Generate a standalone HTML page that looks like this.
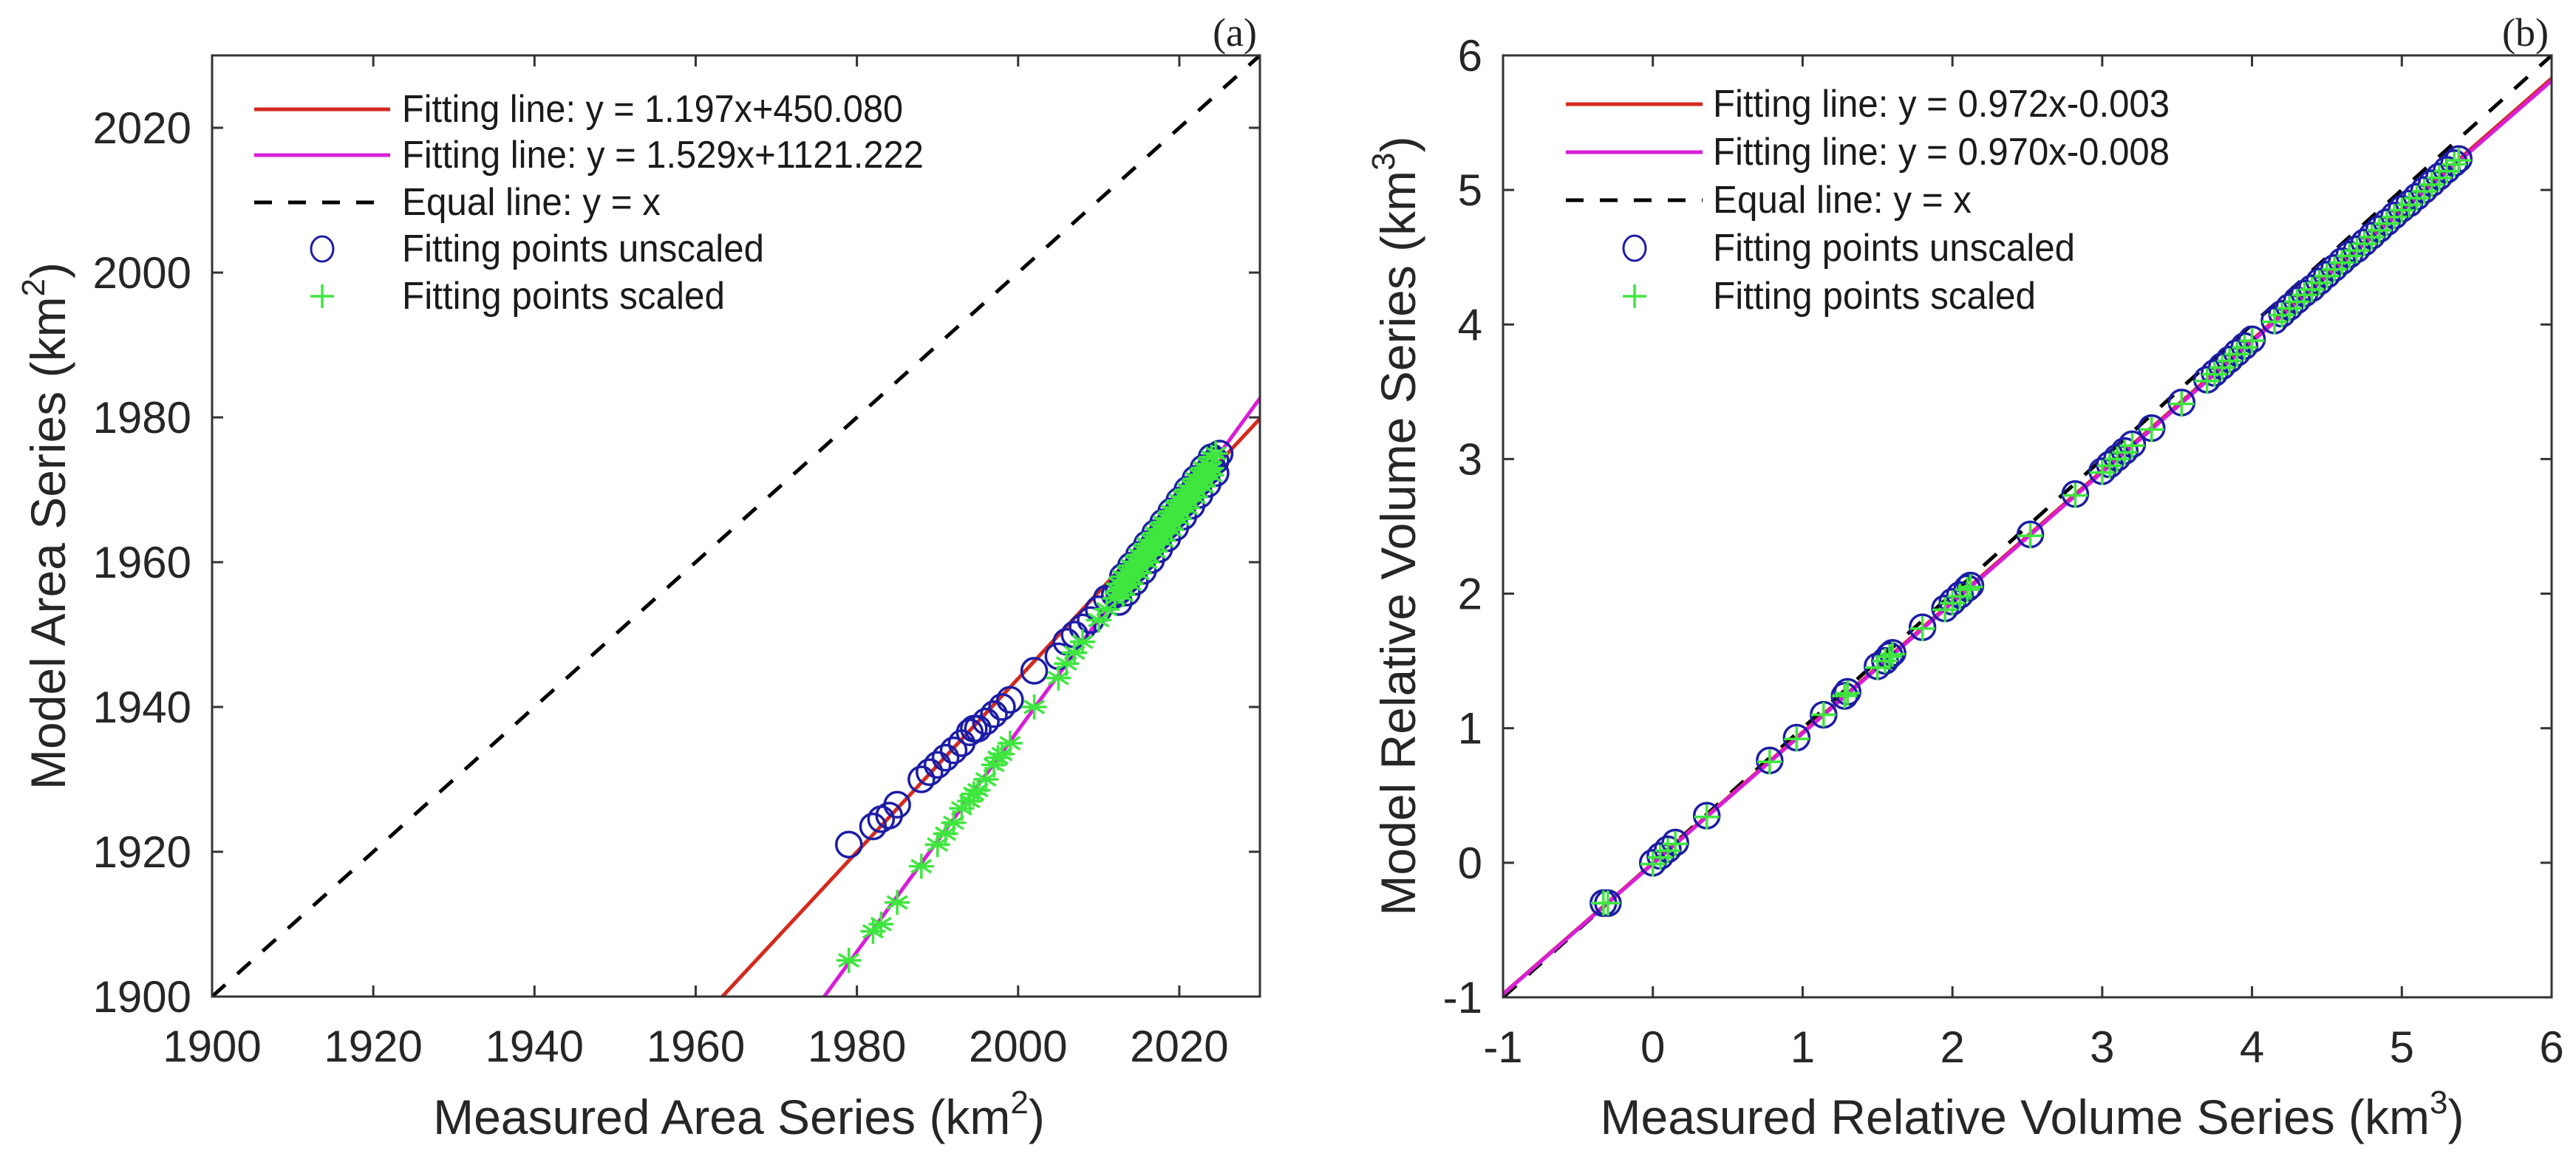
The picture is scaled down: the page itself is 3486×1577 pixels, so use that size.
<!DOCTYPE html>
<html><head><meta charset="utf-8"><style>
html,body{margin:0;padding:0;background:#fff;width:3486px;height:1577px;overflow:hidden;}
svg{display:block;font-family:"Liberation Sans",Arial,sans-serif;}
</style></head><body>
<svg id="fig" width="3486" height="1577" viewBox="0 0 3486 1577" xmlns="http://www.w3.org/2000/svg">
<rect width="3486" height="1577" fill="#fff"/>
<g id="pa"></g>
<g id="pb"></g>
</svg>
<script>
// ---------- Panel (a) data ----------
const aXTicks = [1900,1920,1940,1960,1980,2000,2020];
const aYTicks = [1900,1920,1940,1960,1980,2000,2020];
const aFitSlopes = [1.197, 1.529];
const aFitIntercepts = [-450.080, -1121.222];
const aUnscaledX = [1979,1982,1983,1984,1985,1988,1989,1990,1991,1992,1993,1994,1994.5,1995,1996,1997,1998,1999,2002,2005,2006,2007,2008,2009,2010,2011,
 2012,2012.5,2013,2013.5,2014,2014.5,2015,2015.5,2016,2016.5,2017,2017.5,2018,2018.5,2019,2019.5,2020,2020.5,2021,2021.5,2022,2022.5,2023,2023.5,2024,2024.5,2025,
 2012.5,2013.5,2014.5,2015.5,2016.5,2017.5,2018.5,2019.5,2020.5,2021.5,2022.5,2023.5,2024.5,
 2013,2014,2015,2016,2017,2018,2019,2020,2021,2022,2023,2024];
const aUnscaledY = [1921,1923.5,1924.5,1925,1926.5,1930,1931,1932,1933,1934,1935,1936.5,1937,1937,1938,1939,1940,1941,1945,1947,1949,1950,1951,1952,1953.5,1955,
 1955.5,1956,1957,1957.5,1958.5,1959,1960,1960.5,1961.5,1962,1963,1963.5,1964.5,1965,1966,1966.5,1967.5,1968,1969,1969.5,1970.5,1971,1972,1972.5,1973.5,1974,1975,
 1954.5,1955.8,1957.3,1958.8,1960.3,1961.8,1963.3,1964.8,1966.3,1967.8,1969.3,1970.8,1972.3,
 1958,1959.5,1961,1962.5,1964,1965.5,1967,1968.5,1970,1971.5,1973,1974.5];
const aScaledX = [1979,1982,1983,1985,1988,1990,1991,1992,1993,1994,1994.5,1995,1996,1997,1997.5,1998,1999,2002,2005,2006,2007,2008,2010,2011,
 2012,2012.5,2013,2013.5,2014,2014.5,2015,2015.5,2016,2016.5,2017,2017.5,2018,2018.5,2019,2019.5,2020,2020.5,2021,2021.5,2022,2022.5,2023,2023.5,2024,
 2012.5,2013,2013.5,2014,2014.5,2015,2015.5,2016,2016.5,2017,2017.5,2018,2018.5,2019,2019.5,2020,2020.5,2021,2021.5,2022,2022.5,2023,2023.5,2024,2024.5,
 2013,2014,2015,2016,2017,2018,2019,2020,2021,2022,2023,2024];
const aScaledY = [1905,1909,1910,1913,1918,1921,1922.5,1924,1926,1927,1928,1928.5,1930,1932,1933,1933.5,1935,1940,1944,1946,1947.5,1949,1952,1953.5,
 1955,1956,1956.5,1957.5,1958,1959,1959.5,1960.5,1961,1962,1962.5,1963.5,1964,1965,1965.5,1966.5,1967,1968,1968.5,1969.5,1970,1971,1971.5,1972.5,1973,
 1957,1958,1958.5,1959.5,1960,1961,1961.5,1962.5,1963,1964,1964.5,1965.5,1966,1967,1967.5,1968.5,1969,1970,1970.5,1971.5,1972,1973,1973.5,1974.5,1975,
 1955.5,1957,1958.5,1960,1961.5,1963,1964.5,1966,1967.5,1969,1970.5,1972];

// ---------- Panel (b) data ----------
const bXTicks = [-1,0,1,2,3,4,5,6];
const bYTicks = [-1,0,1,2,3,4,5,6];
const bFitSlopes = [0.972, 0.970];
const bFitIntercepts = [-0.003, -0.008];
const bUnscaledX = [-0.33,-0.3,0,0.05,0.1,0.15,0.36,0.78,0.96,1.14,1.28,1.3,1.5,1.55,1.58,1.6,1.8,1.95,2.0,2.05,2.1,2.12,2.52,2.82,3.0,3.05,3.1,3.15,3.2,3.33,3.53,3.7,3.75,3.8,3.85,3.9,3.95,4.0,
 4.15,4.2,4.25,4.3,4.35,4.4,4.45,4.5,4.55,4.6,4.65,4.7,4.75,4.8,4.85,4.9,4.95,5.0,5.05,5.1,5.15,5.2,5.25,5.3,5.35,5.38];
const bUnscaledY = [-0.3,-0.3,0,0.05,0.1,0.15,0.35,0.76,0.93,1.1,1.24,1.27,1.46,1.5,1.54,1.56,1.75,1.89,1.94,1.99,2.04,2.06,2.44,2.74,2.91,2.96,3.01,3.06,3.11,3.23,3.42,3.59,3.64,3.69,3.74,3.79,3.84,3.89,
 4.03,4.08,4.13,4.18,4.23,4.27,4.32,4.37,4.42,4.47,4.52,4.56,4.61,4.66,4.71,4.76,4.81,4.86,4.9,4.95,5.0,5.05,5.1,5.15,5.2,5.23];
const bScaledX = bUnscaledX.slice();
const bScaledY = [-0.3,-0.3,-0.01,0.04,0.09,0.14,0.34,0.75,0.92,1.1,1.24,1.26,1.45,1.5,1.53,1.55,1.74,1.88,1.93,1.98,2.03,2.05,2.43,2.73,2.9,2.95,3.0,3.05,3.1,3.22,3.41,3.58,3.63,3.68,3.73,3.78,3.83,3.88,
 4.02,4.07,4.12,4.17,4.22,4.26,4.31,4.36,4.41,4.46,4.51,4.55,4.6,4.65,4.7,4.75,4.8,4.85,4.89,4.94,4.99,5.04,5.09,5.14,5.19,5.22];

const NS = "http://www.w3.org/2000/svg";
function mk(tag, attrs, parent){
  const e = document.createElementNS(NS, tag);
  for (const k in attrs) e.setAttribute(k, attrs[k]);
  parent.appendChild(e);
  return e;
}
function lin(d0,d1,r0,r1){ return v => r0 + (v-d0)/(d1-d0)*(r1-r0); }

function panel(g, cfg){
  const sx = lin(cfg.xmin,cfg.xmax,cfg.L,cfg.R);
  const sy = lin(cfg.ymin,cfg.ymax,cfg.B,cfg.T);
  const clipId = cfg.id+"clip";
  const defs = mk("defs",{},g);
  const cp = mk("clipPath",{id:clipId},defs);
  mk("rect",{x:cfg.L,y:cfg.T,width:cfg.R-cfg.L,height:cfg.B-cfg.T},cp);
  const plot = mk("g",{"clip-path":"url(#"+clipId+")"},g);
  
  

  const eq = mk("line",{x1:sx(cfg.xmin),y1:sy(cfg.xmin),x2:sx(cfg.xmax),y2:sy(cfg.xmax),stroke:"#000","stroke-width":5,"stroke-dasharray":"24 22"},plot);
  
  
  const fitCols = ["#d42a1e","#d81ed8"];
  const fitNames = ["fit-line-unscaled","fit-line-scaled"];
  for (let i=0;i<cfg.slopes.length;i++){
    const f = x => cfg.slopes[i]*x + cfg.ints[i];
    const l = mk("line",{x1:sx(cfg.xmin),y1:sy(f(cfg.xmin)),x2:sx(cfg.xmax),y2:sy(f(cfg.xmax)),stroke:fitCols[i],"stroke-width":5},plot);
    
    
  }
  for (let i=0;i<cfg.ux.length;i++){
    const c = mk("circle",{cx:sx(cfg.ux[i]),cy:sy(cfg.uy[i]),r:17,fill:"none",stroke:"#1c1ca6","stroke-width":3.5},plot);
    
    
  }
  for (let i=0;i<cfg.sx.length;i++){
    const x = sx(cfg.sx[i]), y = sy(cfg.sy[i]), s = 17;
    let d = `M${x-s},${y}H${x+s}M${x},${y-s}V${y+s}`;
    if (cfg.star) d += `M${x-s*0.8},${y-s*0.5}L${x+s*0.8},${y+s*0.5}M${x-s*0.8},${y+s*0.5}L${x+s*0.8},${y-s*0.5}`;
    const p = mk("path",{d:d,stroke:"#3ee63e","stroke-width":3.5,fill:"none"},plot);
    
    
  }
  const box = mk("rect",{x:cfg.L,y:cfg.T,width:cfg.R-cfg.L,height:cfg.B-cfg.T,fill:"none",stroke:"#333","stroke-width":3},g);
  
  
  for (const t of cfg.xt){
    const x = sx(t);
    const tk = mk("path",{d:`M${x},${cfg.B}v-15M${x},${cfg.T}v15`,stroke:"#333","stroke-width":3},g);
    
    
    const tl = mk("text",{x:x,y:cfg.B+88,"font-size":60,"text-anchor":"middle",fill:"#262626"},g);
    tl.textContent = t;
    
    
  }
  for (const t of cfg.yt){
    const y = sy(t);
    const tk = mk("path",{d:`M${cfg.L},${y}h15M${cfg.R},${y}h-15`,stroke:"#333","stroke-width":3},g);
    
    
    const tl = mk("text",{x:cfg.L-28,y:y+21,"font-size":60,"text-anchor":"end",fill:"#262626"},g);
    tl.textContent = t;
    
    
  }
  const xt = mk("text",{x:cfg.xtX,y:1535,"font-size":66,"text-anchor":"middle",fill:"#262626"},g);
  xt.innerHTML = cfg.xTitle + ' (km<tspan dy="-28" font-size="44">'+cfg.pow+'</tspan><tspan dy="28">)</tspan>';
  
  
  const yt = mk("text",{x:0,y:0,"font-size":66,"text-anchor":"middle",fill:"#262626",transform:`translate(${cfg.ytX},${cfg.ytY}) rotate(-90)`},g);
  yt.innerHTML = cfg.yTitle + ' (km<tspan dy="-28" font-size="44">'+cfg.pow+'</tspan><tspan dy="28">)</tspan>';
  
  
  const pl = mk("text",{x:cfg.R-4,y:62,"font-size":54,"text-anchor":"end",fill:"#222","font-family":"Liberation Serif, serif"},g);
  pl.textContent = cfg.label;
  
  
  const lg = mk("g",{},g);
  
  
  const rows = cfg.legRows;
  const items = [
    {t:cfg.legTexts[0], kind:"line", col:fitCols[0], w:cfg.legW[0]},
    {t:cfg.legTexts[1], kind:"line", col:fitCols[1], w:cfg.legW[1]},
    {t:"Equal line: y = x", kind:"dash", col:"#000", w:cfg.legW[2]},
    {t:"Fitting points unscaled", kind:"circle", w:cfg.legW[3]},
    {t:"Fitting points scaled", kind:"plus", w:cfg.legW[4]}
  ];
  items.forEach((it,i)=>{
    const y = rows[i];
    const e = mk("g",{},lg);
    
    
    if (it.kind==="line") mk("line",{x1:cfg.legL0,x2:cfg.legL1,y1:y,y2:y,stroke:it.col,"stroke-width":5},e);
    if (it.kind==="dash") mk("line",{x1:cfg.legL0,x2:cfg.legL1,y1:y,y2:y,stroke:"#000","stroke-width":5,"stroke-dasharray":"24 22"},e);
    if (it.kind==="circle") mk("ellipse",{cx:cfg.legM,cy:y,rx:15,ry:17,fill:"none",stroke:"#1c1ca6","stroke-width":3},e);
    if (it.kind==="plus") mk("path",{d:`M${cfg.legM-16},${y}h32M${cfg.legM},${y-16}v32`,stroke:"#3ee63e","stroke-width":3.5},e);
    const tx = mk("text",{x:cfg.legT,y:y+17,"font-size":52,fill:"#1a1a1a",textLength:it.w,lengthAdjust:"spacingAndGlyphs"},e);
    tx.textContent = it.t;
  });
}

panel(document.getElementById("pa"),{
  id:"a", L:287,R:1705,T:75,B:1349, xmin:1900,xmax:2030,ymin:1900,ymax:2030,
  xt:aXTicks, yt:aYTicks, slopes:aFitSlopes, ints:aFitIntercepts,
  ux:aUnscaledX, uy:aUnscaledY, sx:aScaledX, sy:aScaledY, star:true,
  xTitle:"Measured Area Series", yTitle:"Model Area Series", pow:"2",
  xtX:1000, ytX:88, ytY:712, label:"(a)",
  legRows:[148,210,274,337,401], legL0:344, legL1:528, legM:436, legT:544,
  legW:[678,706,350,490,437],
  legTexts:["Fitting line: y = 1.197x+450.080","Fitting line: y = 1.529x+1121.222"]
});
panel(document.getElementById("pb"),{
  id:"b", L:2034,R:3453,T:75,B:1350, xmin:-1,xmax:6,ymin:-1,ymax:6,
  xt:bXTicks, yt:bYTicks, slopes:bFitSlopes, ints:bFitIntercepts,
  ux:bUnscaledX, uy:bUnscaledY, sx:bScaledX, sy:bScaledY, star:false,
  xTitle:"Measured Relative Volume Series", yTitle:"Model Relative Volume Series", pow:"3",
  xtX:2750, ytX:1915, ytY:712, label:"(b)",
  legRows:[141,206,271,336,401], legL0:2119, legL1:2304, legM:2212, legT:2318,
  legW:[618,618,350,490,437],
  legTexts:["Fitting line: y = 0.972x-0.003","Fitting line: y = 0.970x-0.008"]
});
</script>
</body></html>
